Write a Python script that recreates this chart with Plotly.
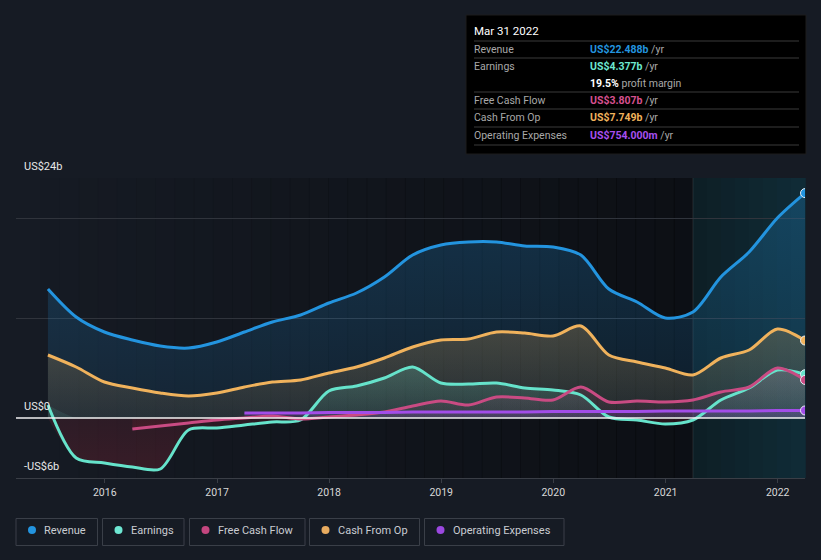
import numpy as np
import plotly.graph_objects as go

# ---------------- data (US$ billions, trailing twelve months) ----------------
dates = ['2015-06-30', '2015-09-30', '2015-12-31', '2016-03-31', '2016-06-30', '2016-09-30',
         '2016-12-31', '2017-03-31', '2017-06-30', '2017-09-30', '2017-12-31', '2018-03-31',
         '2018-06-30', '2018-09-30', '2018-12-31', '2019-03-31', '2019-06-30', '2019-09-30',
         '2019-12-31', '2020-03-31', '2020-06-30', '2020-09-30', '2020-12-31', '2021-03-31',
         '2021-06-30', '2021-09-30', '2021-12-31', '2022-03-31']
revenue = [12.9, 10.1, 8.6, 7.8, 7.2, 7.0, 7.6, 8.6, 9.6, 10.3, 11.5, 12.5, 14.1, 16.3,
           17.3, 17.6, 17.6, 17.2, 17.1, 16.3, 12.9, 11.6, 10.0, 10.6, 14.1, 16.6, 20.0, 22.488]
earnings = [1.3, -4.0, -4.5, -4.9, -5.1, -1.2, -1.0, -0.7, -0.4, -0.2, 2.7, 3.2, 4.0, 5.1,
            3.5, 3.4, 3.5, 3.0, 2.8, 2.3, 0.1, -0.2, -0.6, -0.2, 1.8, 3.0, 4.8, 4.377]
free_cash_flow = [None, None, None, -1.1, -0.8, -0.5, -0.2, 0.0, 0.2, -0.1, 0.1, 0.3, 0.6, 1.2,
                  1.7, 1.3, 2.1, 2.0, 1.8, 3.1, 1.6, 1.7, 1.6, 1.8, 2.6, 3.1, 5.0, 3.807]
cash_from_op = [6.3, 5.1, 3.6, 3.0, 2.5, 2.2, 2.5, 3.1, 3.6, 3.8, 4.5, 5.1, 6.0, 7.1,
                7.8, 7.9, 8.6, 8.5, 8.2, 9.2, 6.3, 5.6, 5.0, 4.3, 6.0, 6.8, 8.9, 7.749]
operating_expenses = [None, None, None, None, None, None, None, 0.5, 0.5, 0.5, 0.55, 0.55,
                      0.55, 0.6, 0.6, 0.6, 0.6, 0.6, 0.65, 0.65, 0.65, 0.65, 0.7, 0.7, 0.7,
                      0.7, 0.75, 0.754]

year_ticks = ['2016-01-01', '2017-01-01', '2018-01-01', '2019-01-01', '2020-01-01',
              '2021-01-01', '2022-01-01']
year_labels = ['2016', '2017', '2018', '2019', '2020', '2021', '2022']
y_labels = [(24, 'US$24b'), (0, 'US$0'), (-6, '-US$6b')]

tooltip_date = 'Mar 31 2022'
tooltip_rows = [
    ('Revenue', 'US$22.488b', '#2394df'),
    ('Earnings', 'US$4.377b', '#6de8d0'),
    ('', '19.5%', None),
    ('Free Cash Flow', 'US$3.807b', '#d6508e'),
    ('Cash From Op', 'US$7.749b', '#f0b25c'),
    ('Operating Expenses', 'US$754.000m', '#a74fee'),
]
legend_items = [('Revenue', '#2394df'), ('Earnings', '#6ee7d3'), ('Free Cash Flow', '#c4467f'),
                ('Cash From Op', '#e8ab5f'), ('Operating Expenses', '#9b48e0')]

# ---------------- layout helpers ----------------
W, H = 821, 560
L, R, T, B = 16, 805, 178, 478
PAPER = '#161b24'
FONT = 'Roboto'


def px(x):
    return (x - L) / (R - L)


def py(y):
    return (B - y) / (B - T)


def arr(v):
    return np.array([np.nan if a is None else a for a in v], dtype=float)


rev = arr(revenue)
ear = arr(earnings)
fcf = arr(free_cash_flow)
cfo = arr(cash_from_op)
opx = arr(operating_expenses)

fig = go.Figure()
SM = 0.85


def fill_trace(y, c0, c1, start, stop):
    fig.add_trace(go.Scatter(
        x=dates, y=y, mode='lines', line=dict(width=0, shape='spline', smoothing=SM),
        fill='tozeroy',
        fillgradient=dict(type='vertical', colorscale=[[0, c0], [1, c1]], start=start, stop=stop),
        hoverinfo='skip', showlegend=False))


# fills (back to front)
fill_trace(rev, 'rgba(35,148,223,0.10)', 'rgba(35,148,223,0.26)', 0, 24)
fill_trace(cfo, 'rgba(240,178,92,0.08)', 'rgba(240,178,92,0.24)', 0, 10)
fill_trace(np.maximum(ear, 0), 'rgba(110,231,208,0.08)', 'rgba(110,231,208,0.22)', 0, 6)
fill_trace(np.minimum(ear, 0), 'rgba(190,40,60,0.22)', 'rgba(190,40,60,0.14)', -6, 0)
fill_trace(np.where(np.isnan(fcf), np.nan, np.maximum(fcf, 0)),
           'rgba(200,75,130,0.06)', 'rgba(200,75,130,0.18)', 0, 6)
fill_trace(np.where(np.isnan(fcf), np.nan, np.minimum(fcf, 0)),
           'rgba(190,40,60,0.16)', 'rgba(190,40,60,0.10)', -2, 0)
fill_trace(opx, 'rgba(162,77,232,0.15)', 'rgba(162,77,232,0.25)', 0, 1)

series = [
    (rev, '#2394df'),
    (cfo, '#f0b25c'),
    (ear, '#66e3cb'),
    (fcf, '#c94b83'),
    (opx, '#a24de8'),
]
for y, c in series:
    fig.add_trace(go.Scatter(x=dates, y=y, mode='lines',
                             line=dict(color=c, width=3, shape='spline', smoothing=SM),
                             hoverinfo='skip', showlegend=False))
for y, c in series:
    fig.add_trace(go.Scatter(x=[dates[-1]], y=[y[-1]], mode='markers',
                             marker=dict(size=9, color=c, line=dict(color='#e8eef5', width=1)),
                             hoverinfo='skip', showlegend=False))

shapes = []
# horizontal darkening of the plot area (left -> right)
n = 34
x_start, x_end = 40, 693
for i in range(n):
    a0 = x_start + (x_end - x_start) * i / n
    a1 = x_start + (x_end - x_start) * (i + 1) / n
    alpha = 0.42 * (i + 0.5) / n
    shapes.append(dict(type='rect', xref='paper', yref='paper', x0=px(a0), x1=px(a1) + 0.001,
                       y0=0, y1=1, fillcolor=f'rgba(0,0,0,{alpha:.3f})', line=dict(width=0),
                       layer='below'))
# highlighted last-year region
m = 8
for i in range(m):
    a0 = 693 + (805 - 693) * i / m
    a1 = 693 + (805 - 693) * (i + 1) / m
    t = (i + 0.5) / m
    r_, g_, b_ = 13 + 3 * t, 30 + 14 * t, 37 + 18 * t
    shapes.append(dict(type='rect', xref='paper', yref='paper', x0=px(a0), x1=px(a1) + 0.001,
                       y0=0, y1=1, fillcolor=f'rgb({r_:.0f},{g_:.0f},{b_:.0f})',
                       line=dict(width=0), layer='below'))
shapes.append(dict(type='line', xref='x', yref='paper', x0='2021-03-31', x1='2021-03-31', y0=0, y1=1,
                   line=dict(color='rgba(255,255,255,0.10)', width=1), layer='below'))
# zero line
shapes.append(dict(type='line', xref='paper', yref='y', x0=0, x1=1, y0=0, y1=0,
                   line=dict(color='#f2f2f2', width=1.5), layer='above'))

annotations = []
for v, t in y_labels:
    annotations.append(dict(xref='paper', yref='paper', x=px(22), y=py(418 - v * 10 - 12),
                            text=t, showarrow=False, xanchor='left', yanchor='middle',
                            font=dict(family=FONT, size=11, color='#e8e8e8')))

# tooltip box
shapes.append(dict(type='rect', xref='paper', yref='paper', x0=px(466), x1=px(806),
                   y0=py(154), y1=py(15), fillcolor='#000000', line=dict(color='#1c1c1c', width=1),
                   layer='above'))
for ly in [41, 58, 92, 109, 127, 145]:
    shapes.append(dict(type='line', xref='paper', yref='paper', x0=px(474), x1=px(799),
                       y0=py(ly), y1=py(ly), line=dict(color='#3a3a3a', width=1), layer='above'))
annotations.append(dict(xref='paper', yref='paper', x=px(472), y=py(31), text=tooltip_date,
                        showarrow=False, xanchor='left', yanchor='middle',
                        font=dict(family=FONT, size=11.5, color='#ffffff')))
row_y = [49.5, 66.5, 83.5, 100.5, 117.5, 135]
for (lab, val, col), ry in zip(tooltip_rows, row_y):
    if lab:
        annotations.append(dict(xref='paper', yref='paper', x=px(472), y=py(ry), text=lab,
                                showarrow=False, xanchor='left', yanchor='middle',
                                font=dict(family=FONT, size=10.5, color='#a8a8a8')))
    if col:
        txt = f"<b><span style='color:{col}'>{val}</span></b> /yr"
    else:
        txt = f"<b><span style='color:#ffffff'>{val}</span></b> profit margin"
    annotations.append(dict(xref='paper', yref='paper', x=px(588), y=py(ry), text=txt,
                            showarrow=False, xanchor='left', yanchor='middle',
                            font=dict(family=FONT, size=10.5, color='#a8a8a8')))

# legend boxes
box_x = [(16, 97.5), (102.5, 184), (189.5, 305), (309.5, 419.5), (424.5, 564)]
for (name, col), (x0, x1) in zip(legend_items, box_x):
    shapes.append(dict(type='rect', xref='paper', yref='paper', x0=px(x0), x1=px(x1),
                       y0=py(545.5), y1=py(518.5), line=dict(color='#3a3f48', width=1),
                       fillcolor='rgba(0,0,0,0)'))
    shapes.append(dict(type='circle', xref='paper', yref='paper', x0=px(x0 + 12), x1=px(x0 + 20),
                       y0=py(534), y1=py(526), line=dict(width=0), fillcolor=col))
    annotations.append(dict(xref='paper', yref='paper', x=px(x0 + 26), y=py(530.5), text=name,
                            showarrow=False, xanchor='left', yanchor='middle',
                            font=dict(family=FONT, size=11, color='#c9ccd2')))

fig.update_layout(
    width=W, height=H,
    margin=dict(l=L, r=W - R, t=T, b=H - B, pad=0),
    paper_bgcolor=PAPER, plot_bgcolor=PAPER,
    showlegend=False, hovermode=False,
    shapes=shapes, annotations=annotations,
    font=dict(family=FONT, color='#d6d6d6'),
)
fig.update_xaxes(type='date', range=['2015-03-18', '2022-03-31'], tickvals=year_ticks,
                 ticktext=year_labels, showgrid=False, zeroline=False, showline=True,
                 linecolor='#3a3e46', linewidth=1, ticks='outside', ticklen=4,
                 tickcolor='#3a3e46', tickfont=dict(family=FONT, size=10.5, color='#d8d8d8'))
fig.update_yaxes(range=[-6, 24], tickvals=[10, 20, 24], showticklabels=False, showgrid=True,
                 gridcolor='#30343c', gridwidth=1, zeroline=False, showline=False)

fig.write_html('out.html', config={'displayModeBar': False},
               post_script="document.body.style.margin='0px';document.body.style.overflow='hidden';"
                           "document.body.style.background='" + PAPER + "';")
